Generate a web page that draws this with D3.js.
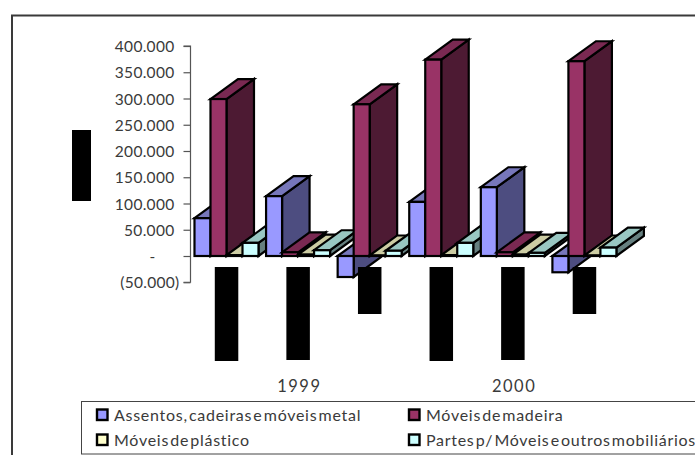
<!DOCTYPE html>
<html>
<head>
<meta charset="utf-8">
<script src="https://cdnjs.cloudflare.com/ajax/libs/d3/7.8.5/d3.min.js"></script>
<style>
  html, body { margin: 0; padding: 0; background: #fff; }
  svg { display: block; }
  text { font-family: "Lato", sans-serif; fill: #3a3a3a; }
</style>
</head>
<body>
<svg id="chart" width="695" height="455"></svg>
<script>
// Furniture figures for two years, three groups per year, four series per group.
const years = ["1999", "2000"];
const groups = ["1999-a", "1999-b", "1999-c", "2000-a", "2000-b", "2000-c"];
const seriesNames = [
  "Assentos, cadeiras e móveis metal",
  "Móveis de madeira",
  "Móveis de plástico",
  "Partes p/ Móveis e outros mobiliários"
];
const assentos = [72000, 114000, -40000, 103000, 131000, -31000];
const madeira = [299000, 7000, 289000, 374000, 7000, 371000];
const plastico = [1500, 2500, 1000, 1500, 2500, 1000];
const partes = [25000, 11000, 10000, 25000, 6000, 16000];
const seriesValues = [assentos, madeira, plastico, partes];
const tickValues = [-50000, 0, 50000, 100000, 150000, 200000, 250000, 300000, 350000, 400000];

// Masked group labels below the bars: lengths in px, plus the masked axis title.
const maskLengths = [94, 93, 47, 94, 93, 47];

const frontColors = ["#9999ff", "#993366", "#ffffcc", "#ccffff"];
const topColors = ["#7777bb", "#7a2952", "#cccca3", "#99c7c2"];
const sideColors = ["#4d4d80", "#4d1a33", "#808066", "#668080"];

const svg = d3.select("#chart");

// Chart frame: only the top and left edges fall inside the view.
svg.append("path").attr("d", "M12,455V15.5H695").attr("fill", "none").attr("stroke", "#3a3a3a").attr("stroke-width", 2);

const y = d3.scaleLinear().domain([-50000, 400000]).range([282.25, 46]);
const x = d3.scaleBand().domain(groups).range([191, 620.5]).paddingInner(0).paddingOuter(0);
const barWidth = 16;
const bar = d3.scaleBand().domain(d3.range(4)).range([0, barWidth * 4]);
const groupInset = (x.bandwidth() - barWidth * 4) / 2 - 0.3;
const depthX = 27.5, depthY = -20;

// Axis label format: dots for thousands, parentheses for negatives, a dash for zero.
const dotted = d3.formatLocale({ decimal: ",", thousands: ".", grouping: [3], currency: ["", ""] }).format(",d");
const label = v => v === 0 ? "-" : v < 0 ? `(${dotted(-v)})` : dotted(v);

const axis = svg.append("g")
  .attr("transform", "translate(190.5,0)")
  .call(d3.axisLeft(y).tickValues(tickValues).tickFormat(label).tickSize(7).tickPadding(9));
axis.selectAll("path, line").attr("stroke", "#555").attr("stroke-width", 1.2);
axis.select(".domain").attr("d", `M-7,${y(400000)}H0V${y(-50000)}H-7`).attr("fill", "none");
axis.selectAll("text")
  .attr("font-size", 15.5)
  .attr("letter-spacing", 0.3)
  .attr("fill", "#3a3a3a")
  .attr("dx", d => d < 0 ? 5 : d === 0 ? -19 : 0)
  .attr("dy", "0.36em");

// Oblique bars, painted left to right so nearer faces cover farther ones.
const bars = svg.append("g").attr("stroke", "#000").attr("stroke-width", 2.2).attr("stroke-linejoin", "miter");
groups.forEach((g, gi) => {
  seriesValues.forEach((vals, si) => {
    const v = vals[gi];
    const x0 = x(g) + groupInset + bar(si);
    const x1 = x0 + barWidth;
    const yHigh = y(Math.max(v, 0));
    const yLow = y(Math.min(v, 0));
    const pts = a => a.map(p => p.join(",")).join(" ");
    bars.append("polygon").attr("fill", sideColors[si]).attr("points", pts([
      [x1, yHigh], [x1 + depthX, yHigh + depthY], [x1 + depthX, yLow + depthY], [x1, yLow]
    ]));
    bars.append("polygon").attr("fill", topColors[si]).attr("points", pts([
      [x0, yHigh], [x0 + depthX, yHigh + depthY], [x1 + depthX, yHigh + depthY], [x1, yHigh]
    ]));
    bars.append("rect").attr("fill", frontColors[si])
      .attr("x", x0).attr("y", yHigh).attr("width", barWidth).attr("height", yLow - yHigh);
  });
});

// Masked labels.
const masks = svg.append("g").attr("fill", "#000");
masks.selectAll("rect.group").data(groups).join("rect")
  .attr("class", "group")
  .attr("x", d => x(d) + x.bandwidth() / 2 - 12)
  .attr("y", 267)
  .attr("width", 23.5)
  .attr("height", (d, i) => maskLengths[i]);
masks.append("rect").attr("x", 72).attr("y", 130).attr("width", 19).attr("height", 71);

// Year labels centred under each set of three groups.
svg.selectAll("text.year").data(years).join("text")
  .attr("class", "year")
  .attr("x", (d, i) => x(groups[i * 3 + 1]) + x.bandwidth() / 2 + 1)
  .attr("y", 392)
  .attr("text-anchor", "middle")
  .attr("font-size", 16.5)
  .attr("letter-spacing", 1.5)
  .text(d => d);

// Legend box runs off the right side of the view.
svg.append("rect").attr("x", 81.5).attr("y", 401.5).attr("width", 640).attr("height", 52.5)
  .attr("fill", "#fff").attr("stroke", "#444").attr("stroke-width", 1);
const legend = svg.append("g");
const legendCol = [97, 409];
const legendRow = [409.5, 434.5];
seriesNames.forEach((name, i) => {
  const lx = legendCol[i % 2], ly = legendRow[Math.floor(i / 2)];
  legend.append("rect").attr("x", lx).attr("y", ly).attr("width", 10.5).attr("height", 10.5)
    .attr("fill", frontColors[i]).attr("stroke", "#000").attr("stroke-width", 2.4);
  legend.append("text").attr("x", lx + 17).attr("y", ly + 11)
    .attr("font-size", 16)
    .attr("letter-spacing", 0.72)
    .attr("word-spacing", -3.6)
    .text(name);
});
</script>
</body>
</html>
